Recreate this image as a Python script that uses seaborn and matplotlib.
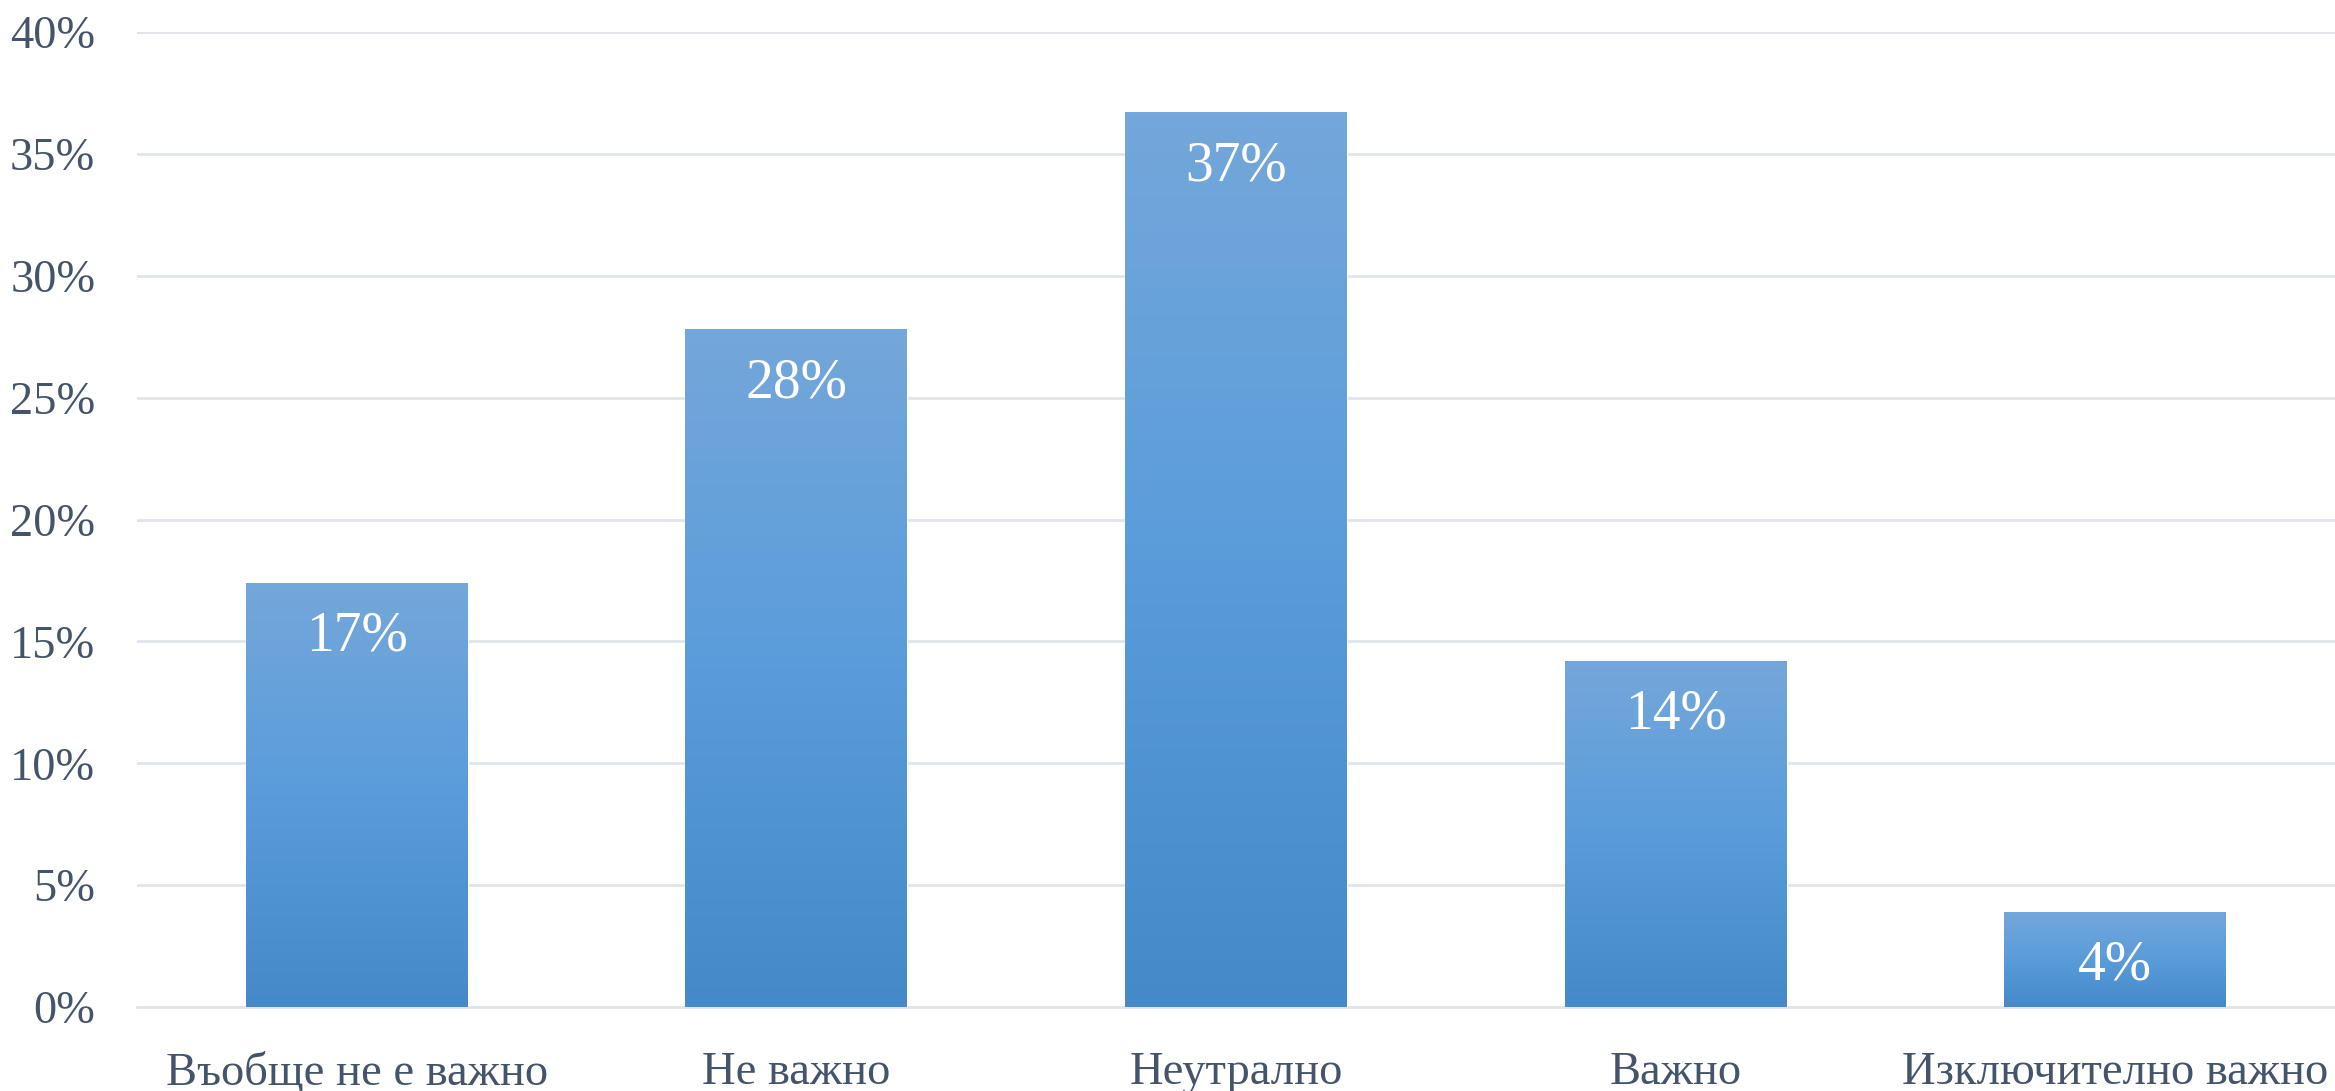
import numpy as np
import pandas as pd
import matplotlib
matplotlib.use("Agg")
import matplotlib.pyplot as plt
import seaborn as sns
from matplotlib.colors import LinearSegmentedColormap

categories = ["Въобще не е важно", "Не важно", "Неутрално", "Важно", "Изключително важно"]
values = [17.4, 27.8, 36.7, 14.2, 3.9]
value_labels = ["17%", "28%", "37%", "14%", "4%"]
y_ticks = [0, 5, 10, 15, 20, 25, 30, 35, 40]
y_tick_labels = ["0%", "5%", "10%", "15%", "20%", "25%", "30%", "35%", "40%"]

sns.set_theme(style="white")
plt.rcParams["font.family"] = ["Liberation Serif", "DejaVu Serif"]

text_color = "#44546a"
grid_color = "#e1e5eb"

fig = plt.figure(figsize=(23.35, 10.91), dpi=100)
ax = fig.add_axes([137 / 2335, 84 / 1091, 1 - 137 / 2335, (1007 - 32) / 1091])

df = pd.DataFrame({"cat": categories, "val": values})
sns.barplot(data=df, x="cat", y="val", ax=ax, color="#5b9bd5", width=0.505,
            saturation=1, zorder=3)

cmap = LinearSegmentedColormap.from_list("g", ["#4589c8", "#5a9cdb", "#74a7da"])
grad = np.linspace(0, 1, 256).reshape(-1, 1)
for p in ax.patches:
    x0, y0 = p.get_x(), p.get_y()
    w, h = p.get_width(), p.get_height()
    im = ax.imshow(grad, cmap=cmap, origin="lower", aspect="auto",
                   extent=[x0, x0 + w, y0, y0 + h], zorder=4)
    im.set_clip_path(p)

for i, (v, lab) in enumerate(zip(values, value_labels)):
    ax.annotate(lab, xy=(i, v), xytext=(0, -54), textcoords="offset pixels",
                ha="center", va="center", color="white", fontsize=40, zorder=6)

ax.set_xlim(-0.5, 4.5)
ax.set_ylim(0, 40)
ax.set_yticks(y_ticks)
ax.set_yticklabels(y_tick_labels)
ax.yaxis.grid(True, color=grid_color, linewidth=2, zorder=0)
ax.set_axisbelow(True)
ax.set_xlabel("")
ax.set_ylabel("")
for s in ["top", "right", "left"]:
    ax.spines[s].set_visible(False)
ax.spines["bottom"].set_color(grid_color)
ax.spines["bottom"].set_linewidth(2)
ax.tick_params(axis="y", length=0, pad=30, labelsize=33.5, labelcolor=text_color)
ax.tick_params(axis="x", length=0, pad=32, labelsize=33.5, labelcolor=text_color)

fig.savefig("out.png", dpi=100, facecolor="white")
